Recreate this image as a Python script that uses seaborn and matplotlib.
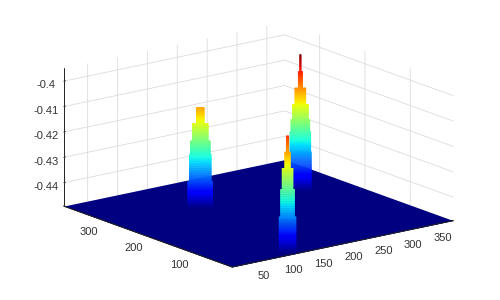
import numpy as np
import matplotlib
matplotlib.use("Agg")
import matplotlib.pyplot as plt
from matplotlib.transforms import Affine2D
import seaborn as sns

sns.set_style("white")
plt.rcParams["font.family"] = ["Liberation Sans", "DejaVu Sans"]

# axis ranges
x_limits = [10, 380]
y_limits = [5, 377]
z_limits = [-0.4492, -0.395]
x_ticks = [50, 100, 150, 200, 250, 300, 350]
y_ticks = [100, 200, 300]
z_ticks = [-0.44, -0.43, -0.42, -0.41, -0.4]
z_labels = ["-0.44", "-0.43", "-0.42", "-0.41", "-0.4"]

# peak base positions
peak_a_center = [146, 255]
peak_b_center = [300, 237]
peak_c_center = [108, 12]

# stepped profiles: height of each step top and half width of that step
peak_a_tops = [-0.4384, -0.4276, -0.4224, -0.4156, -0.4092]
peak_a_half = [16.7, 14.7, 13.4, 10.7, 5.4]
peak_b_tops = [-0.4332, -0.4252, -0.4204, -0.4144, -0.4080, -0.4016, -0.3948]
peak_b_half = [14.7, 14.0, 12.7, 10.7, 7.4, 3.0, 1.0]
peak_c_tops = [-0.4348, -0.4240, -0.4156, -0.4092, -0.4028]
peak_c_half = [11.4, 9.4, 7.4, 3.8, 1.8]

floor_z = z_limits[0]
color_max = -0.3948
azim = -127.3
jet = matplotlib.colormaps["jet"]


def to_color(z):
    return jet((z - floor_z) / (color_max - floor_z))


def draw_peak(ax, center, tops, half, order):
    # each step keeps its width, levels only make the colour run smoothly
    levels, radius = [], []
    bottom = floor_z
    for top, r in zip(tops, half):
        levels.extend(np.linspace(bottom, top, 40))
        radius.extend([r] * 40)
        bottom = top
    levels = np.array(levels)
    radius = np.array(radius)
    # ribbon turned towards the viewer, so colours stay level across it
    side = np.array([-1.0, 1.0])
    X = center[0] + np.outer(radius, side) * -np.sin(np.radians(azim))
    Y = center[1] + np.outer(radius, side) * np.cos(np.radians(azim))
    Z = np.outer(levels, np.ones_like(side))
    surf = ax.plot_surface(X, Y, Z, facecolors=to_color(Z), rstride=1, cstride=1,
                           shade=False, linewidth=0.3, zorder=order)
    surf.set_edgecolors(surf._facecolor3d)


fig = plt.figure(figsize=(5, 3), dpi=100)
ax = fig.add_axes([50 / 500, -53 / 300, 406 / 500, 406 / 300],
                  projection="3d", proj_type="ortho", computed_zorder=False)
ax.view_init(elev=16.0, azim=azim)
ax.set_box_aspect((1, 1, 0.515))
ax.set_xlim(x_limits, view_margin=0)
ax.set_ylim(y_limits, view_margin=0)
ax.set_zlim(z_limits, view_margin=0)

# floor
fx, fy = np.meshgrid(x_limits, y_limits)
fz = np.full_like(fx, floor_z, dtype=float)
ax.plot_surface(fx, fy, fz, color=to_color(floor_z), shade=False, linewidth=0, zorder=1)

draw_peak(ax, peak_a_center, peak_a_tops, peak_a_half, 2)
draw_peak(ax, peak_b_center, peak_b_tops, peak_b_half, 3)
draw_peak(ax, peak_c_center, peak_c_tops, peak_c_half, 4)

# front edges of the floor
ax.plot(x_limits, [y_limits[0]] * 2, [floor_z] * 2, color="#222222", lw=0.7, zorder=1.5)
ax.plot([x_limits[0]] * 2, y_limits, [floor_z] * 2, color="#222222", lw=0.7, zorder=1.5)

ax.set_xticks(x_ticks)
ax.set_yticks(y_ticks)
ax.set_zticks(z_ticks)
ax.set_zticklabels(z_labels)
ax.tick_params(labelsize=8, colors="#333333", pad=-1)

for axis in (ax.xaxis, ax.yaxis, ax.zaxis):
    axis.set_pane_color((1, 1, 1, 1))
    axis.pane.set_edgecolor((1, 1, 1, 0))
    axis.line.set_color("#222222")
    axis.line.set_linewidth(0.7)
    axis._axinfo["grid"].update(color="#dcdcdc", linewidth=0.6)
    axis._axinfo["tick"].update(inward_factor=0.0, outward_factor=0.1, linewidth={True: 0.6, False: 0.6})

# nudge tick labels closer to where they sit in the original
fig.canvas.draw()
for axis, dx, dy in ((ax.xaxis, 7, 6), (ax.yaxis, -1, 5), (ax.zaxis, 0, 7)):
    for tick in axis.get_major_ticks():
        tick.label1.set_transform(tick.label1.get_transform() + Affine2D().translate(dx, dy))

fig.savefig("out.png", dpi=100)
